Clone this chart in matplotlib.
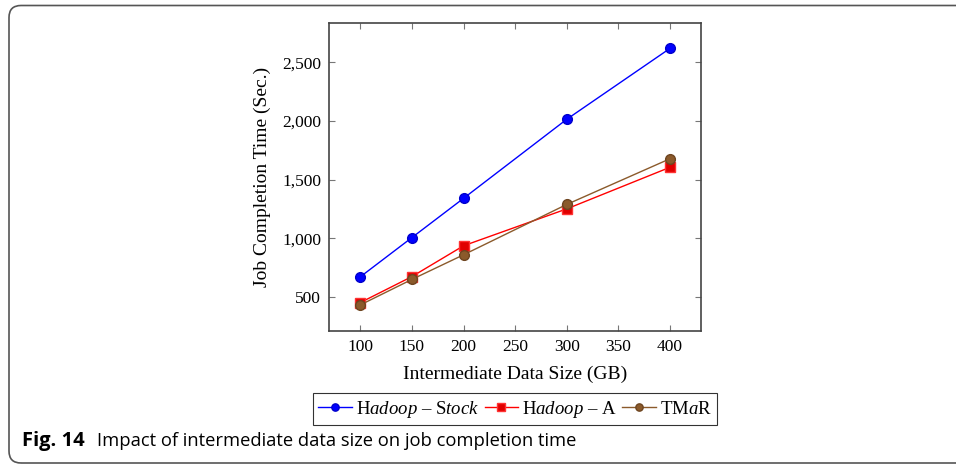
import matplotlib.pyplot as plt
from matplotlib.patches import FancyBboxPatch
from matplotlib.transforms import IdentityTransform

sizes = [100, 150, 200, 300, 400]
hadoop_stock = [670, 1005, 1340, 2015, 2620]
hadoop_a = [450, 672, 935, 1250, 1605]
tmar = [430, 648, 858, 1288, 1678]
xticks = [100, 150, 200, 250, 300, 350, 400]
yticks = [500, 1000, 1500, 2000, 2500]

plt.rcParams["font.family"] = ["Liberation Serif", "DejaVu Serif"]
plt.rcParams["mathtext.fontset"] = "custom"
plt.rcParams["mathtext.it"] = "Liberation Serif:italic"
plt.rcParams["mathtext.rm"] = "Liberation Serif"

fig = plt.figure(figsize=(9.56, 4.65), dpi=100)
ax = fig.add_axes([0.3445, 0.2888, 0.3888, 0.6624])

ax.plot(sizes, hadoop_stock, color="blue", lw=1, marker="o", ms=7,
        mfc="blue", mec="#0000cc", label=r"H$\mathit{adoop}$ – S$\mathit{tock}$")
ax.plot(sizes, hadoop_a, color="red", lw=1, marker="s", ms=7,
        mfc="#e00000", mec="#ff3333", label=r"H$\mathit{adoop}$ – A")
ax.plot(sizes, tmar, color="#8b5a2b", lw=1, marker="o", ms=7,
        mfc="#8b5a2b", mec="#6e4520", label=r"TM$\mathit{a}$R")

ax.set_xlim(70, 430)
ax.set_ylim(210, 2839)
ax.set_xticks(xticks)
ax.set_yticks(yticks)
ax.set_yticklabels([f"{v:,}" for v in yticks])
ax.tick_params(direction="in", top=True, right=True, length=4,
               color="#777777", labelsize=12.5, pad=6)
for s in ax.spines.values():
    s.set_color("#444444")
    s.set_linewidth(1.2)
ax.set_xlabel("Intermediate Data Size (GB)", fontsize=14, labelpad=8)
ax.set_ylabel("Job Completion Time (Sec.)", fontsize=14, labelpad=8)

handles, labels = ax.get_legend_handles_labels()
fig.legend(handles, labels, loc="center", bbox_to_anchor=(515 / 956, 1 - 409 / 465),
           ncol=3, fontsize=13.5, frameon=True, fancybox=False, edgecolor="black",
           handlelength=1.8, handletextpad=0.2, columnspacing=0.3,
           borderpad=0.3, markerscale=0.75)
leg = fig.legends[0]
leg.get_frame().set_linewidth(0.8)

fig.text(22 / 956, 1 - 441 / 465, "Fig. 14", fontsize=14.5, fontweight="bold",
         family="Open Sans", va="center", ha="left")
fig.text(97 / 956, 1 - 441 / 465, "Impact of intermediate data size on job completion time",
         fontsize=13.2, family="Open Sans", va="center", ha="left")

border = FancyBboxPatch((9, 2), 1000, 457.5, boxstyle="round,pad=0,rounding_size=12",
                        transform=IdentityTransform(), fill=False, edgecolor="#555555",
                        linewidth=1.2)
fig.add_artist(border)

fig.savefig("out.png", dpi=100)
